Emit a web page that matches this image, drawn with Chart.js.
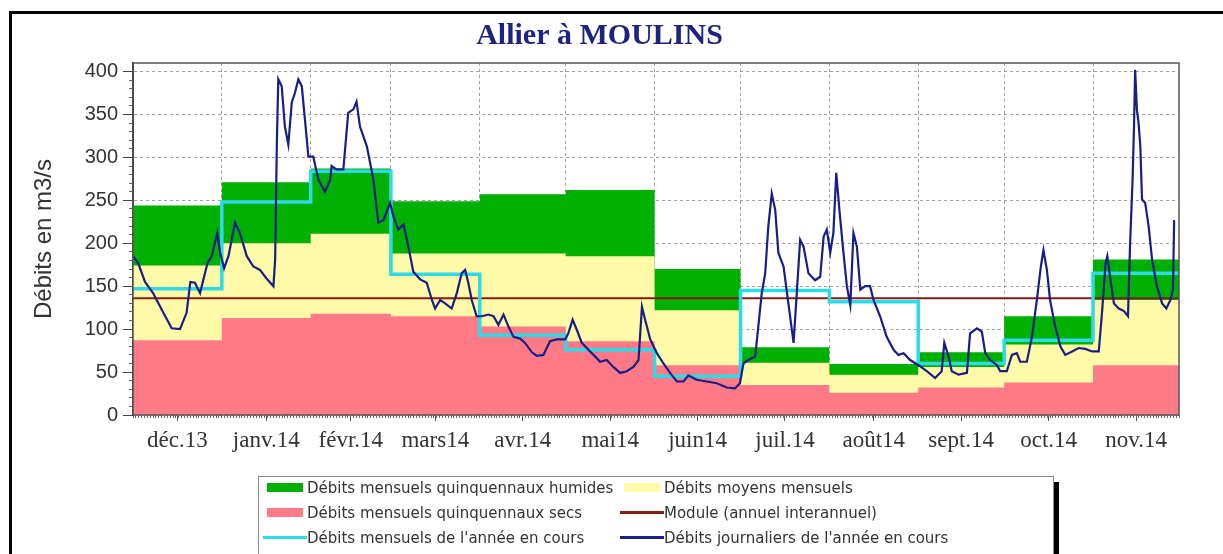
<!DOCTYPE html>
<html>
<head>
<meta charset="utf-8">
<script src="https://cdn.jsdelivr.net/npm/chart.js@4/dist/chart.umd.min.js"></script>
<style>
    body { margin: 0; background: #fff; }
    #wrap { position: relative; width: 1223px; height: 554px; overflow: hidden; background: #fff; }
    #chart { position: absolute; left: 0; top: 0; }
    .frame { position: absolute; left: 9px; top: 11px; width: 1400px; height: 800px; border-left: 3px solid #000; border-top: 3px solid #000; pointer-events: none; }
    #legend { position: absolute; left: 258px; top: 476px; width: 796px; height: 110px; box-sizing: border-box; border: 1px solid #8c8c8c; box-shadow: 5px 6px 0 #000; background: #fff; }
    #legend .rows { display: grid; grid-template-columns: 357px auto; grid-auto-rows: 25px; margin: -2px 0 0 4px; font: 15px "DejaVu Sans", sans-serif; color: #333; }
    #legend .item { display: flex; align-items: center; white-space: nowrap; }
    #legend .sw { width: 44px; height: 25px; display: flex; align-items: center; justify-content: center; flex: none; }
</style>
</head>
<body>
<div id="wrap">
    <canvas id="chart" width="1223" height="554"></canvas>
    <div class="frame"></div>
    <div id="legend"><div class="rows"></div></div>
</div>
<script>
// jours depuis le 1er décembre 2013
const monthStarts = [0, 31, 62, 90, 121, 151, 182, 212, 243, 274, 304, 335];
const periodEnd = 365;
const monthMids = [15.5, 46.5, 76, 105.5, 136, 166.5, 197, 227.5, 258.5, 289, 319.5, 350];
const monthLabels = ["déc.13", "janv.14", "févr.14", "mars14", "avr.14", "mai14", "juin14", "juil.14", "août14", "sept.14", "oct.14", "nov.14"];

const humidValues = [244, 271, 287, 249, 257, 262, 170, 79, 59.5, 73, 115, 181];
const meanValues = [174, 200, 211, 188, 188, 185, 122, 61, 47, 56, 82, 134];
const dryValues = [87, 113, 118, 115, 103, 86, 58, 35, 26, 32, 38, 58];
const currentMonthly = [147, 248, 284, 164, 93, 76, 45, 145, 132, 60, 87, 165];
const moduleValue = 136;

const dailyDays = [0, 1.8, 4.2, 7, 10.6, 13.5, 16.4, 18.7, 20, 21.6, 23.4, 26, 27.5, 29.4, 30.4, 31.8, 33.3, 35.6, 37.3, 39.7,
    42, 44.3, 46.6, 49, 49.6, 50.2, 50.7, 51.9, 53, 54.2, 55.4, 56.5, 57.7, 58.9, 60, 61.2, 62.9, 64.7, 67, 68.8,
    69.3, 71, 73.4, 75.1, 76.9, 78, 79.2, 81.6, 83.9, 85.6, 87.4, 89.7, 90.9, 92.6, 94.4, 96.1, 97.8, 100.2, 102.5, 104.3,
    105.4, 107.2, 108.9, 111.2, 113, 114.7, 115.9, 117, 118.2, 119.9, 121.7, 124, 125.8, 127.5, 129.3, 131, 132.8, 135.1, 136.8, 139.2,
    140.9, 143.2, 145.5, 147.9, 150.8, 151.9, 153.4, 154.9, 156.6, 158.9, 161.3, 163, 165.3, 167.6, 170, 172.3, 174.6, 176.4, 177.6, 178.7,
    180.5, 182.8, 185.1, 187.4, 189.8, 192.1, 193.8, 196.7, 200.2, 203.7, 207.2, 210.1, 211.8, 213, 214.7, 217.1, 218.2, 219.4, 220.6, 221.7,
    222.9, 224.1, 225.2, 227, 228.7, 230.5, 231.7, 232.8, 234, 235.7, 238, 239.8, 241, 242.1, 243.3, 244.4, 245.4, 246.5, 247.7, 249.1,
    250.3, 251.4, 252.6, 253.8, 255.5, 257.2, 258.4, 260.7, 263, 265.4, 267.1, 268.9, 271.2, 274.1, 277, 279.9, 282.2, 283.1, 284.6, 285.7,
    288.1, 291, 292.1, 294.5, 296.2, 297.4, 299.1, 301.5, 302.6, 304.9, 306.7, 308.4, 309.6, 311.9, 313.7, 315.4, 316.8, 317.7, 318.9, 320,
    321.8, 323.6, 325.3, 327.7, 330, 332.3, 334.7, 337, 338.2, 339.4, 340, 341.1, 342.3, 344, 345.8, 347.2, 347.9, 348.8, 349.3, 349.7,
    350.3, 350.9, 351.5, 352.1, 353.2, 354.4, 355.6, 357.3, 359.1, 360.6, 362, 362.9, 363.3];
const dailyValues = [185, 177, 155, 142, 119, 101, 100, 119, 155, 154, 142, 177, 185, 212, 189, 171, 185, 224, 212, 185,
    173, 169, 159, 150, 181, 317, 391, 383, 336, 315, 364, 375, 391, 383, 344, 301, 301, 274, 260, 274,
    290, 286, 286, 352, 356, 365, 336, 313, 274, 224, 227, 247, 231, 216, 222, 196, 167, 158, 154, 134,
    124, 134, 130, 124, 142, 165, 169, 154, 134, 115, 115, 117, 115, 105, 117, 103, 91, 89, 84, 73,
    69, 70, 86, 88, 88, 95, 111, 99, 84, 76, 68, 62, 64, 56, 49, 51, 56, 64, 126, 111,
    88, 72, 60, 49, 39, 39, 46, 41, 39, 37, 32, 31, 37, 60, 64, 68, 103, 142, 165, 220,
    258, 239, 189, 173, 130, 84, 146, 204, 196, 165, 157, 161, 208, 216, 189, 212, 282, 239, 196, 150,
    128, 212, 196, 146, 150, 150, 134, 115, 91, 76, 70, 72, 64, 58, 51, 43, 51, 84, 68, 51,
    47, 49, 95, 101, 97, 72, 64, 58, 51, 51, 70, 72, 62, 62, 91, 134, 173, 192, 169, 134,
    103, 80, 70, 74, 78, 77, 74, 74, 122, 177, 185, 157, 130, 124, 121, 115, 196, 274, 336, 402,
    356, 340, 313, 251, 247, 220, 181, 150, 130, 124, 134, 146, 227];

function monthlySteps(values) {
    var pts = monthStarts.map((d, i) => ({ x: d, y: values[i] }));
    pts.push({ x: periodEnd, y: values[values.length - 1] });
    return pts;
}

const plotFrame = {
    id: "plotFrame",
    afterDatasetsDraw(chart) {
        const { ctx, chartArea: a } = chart;
        ctx.save();
        ctx.strokeStyle = "#555";
        ctx.lineWidth = 1.5;
        ctx.strokeRect(a.left, a.top, a.right - a.left, a.bottom - a.top);
        ctx.restore();
    },
};

function buildLegend(chart) {
    var rows = document.querySelector("#legend .rows");
    chart.data.datasets.forEach((ds) => {
        var item = document.createElement("div");
        item.className = "item";
        var sw = document.createElement("span");
        sw.className = "sw";
        var mark = document.createElement("span");
        if (ds.fill) {
            mark.style.cssText = "width:36px;height:9px;background:" + ds.backgroundColor;
        } else {
            mark.style.cssText = "width:44px;height:3px;background:" + ds.borderColor;
        }
        sw.appendChild(mark);
        item.appendChild(sw);
        item.appendChild(document.createTextNode(ds.label));
        rows.appendChild(item);
    });
}

function everyStep(from, to, step) {
    var out = [];
    for (var v = from; v <= to; v += step) out.push({ value: v });
    return out;
}

const tickFont = { family: "Liberation Sans", size: 20 };
const gridColor = "#a0a0a0";

var chart = new Chart(document.getElementById("chart"), {
    type: "line",
    data: {
        datasets: [
            { label: "Débits mensuels quinquennaux humides", data: monthlySteps(humidValues), stepped: true, fill: "origin",
              backgroundColor: "rgb(0,176,0)", borderColor: "rgba(0,0,0,0)", borderWidth: 0, order: 5 },
            { label: "Débits moyens mensuels", data: monthlySteps(meanValues), stepped: true, fill: "origin",
              backgroundColor: "rgb(255,250,168)", borderColor: "rgba(0,0,0,0)", borderWidth: 0, order: 4 },
            { label: "Débits mensuels quinquennaux secs", data: monthlySteps(dryValues), stepped: true, fill: "origin",
              backgroundColor: "rgb(255,122,135)", borderColor: "rgba(0,0,0,0)", borderWidth: 0, order: 3 },
            { label: "Module (annuel interannuel)", data: [{ x: 0, y: moduleValue }, { x: periodEnd, y: moduleValue }], fill: false,
              borderColor: "rgb(130,28,20)", borderWidth: 2, order: 2 },
            { label: "Débits mensuels de l'année en cours", data: monthlySteps(currentMonthly), stepped: true, fill: false,
              borderColor: "rgb(45,218,232)", borderWidth: 3.5, order: 1 },
            { label: "Débits journaliers de l'année en cours", data: dailyDays.map((d, i) => ({ x: d, y: dailyValues[i] })), fill: false,
              borderColor: "rgb(24,30,135)", borderWidth: 2.2, order: 0 },
        ],
    },
    options: {
        responsive: false,
        animation: false,
        devicePixelRatio: 1,
        elements: { point: { radius: 0 }, line: { tension: 0 } },
        layout: { padding: { left: 20, right: 44, top: 0, bottom: 89 } },
        plugins: {
            legend: { display: false },
            tooltip: { enabled: false },
            title: {
                display: true,
                text: "Allier à MOULINS",
                color: "#1c2480",
                font: { family: "Liberation Serif", size: 30, weight: "bold" },
                padding: { top: 18, bottom: 9 },
            },
        },
        scales: {
            x: {
                type: "linear",
                position: "bottom",
                weight: 0,
                min: 0,
                max: periodEnd,
                afterBuildTicks: (s) => { s.ticks = monthStarts.map((v) => ({ value: v })); },
                afterFit: (s) => { s.height = 0; },
                ticks: { display: false },
                grid: { color: gridColor, drawTicks: false },
                border: { display: false, dash: [3, 3] },
            },
            days: {
                type: "linear",
                position: "bottom",
                weight: 1,
                min: 0,
                max: periodEnd,
                afterBuildTicks: (s) => { s.ticks = everyStep(0, periodEnd, 1); },
                afterFit: (s) => { s.height = 0; },
                ticks: { display: false },
                grid: { drawOnChartArea: false, tickLength: 3, color: "#666" },
                border: { display: false },
            },
            months: {
                type: "linear",
                position: "bottom",
                weight: 2,
                min: 0,
                max: periodEnd,
                afterBuildTicks: (s) => { s.ticks = monthMids.map((v) => ({ value: v })); },
                afterFit: (s) => { s.height = 50; },
                ticks: {
                    autoSkip: false,
                    maxRotation: 0,
                    padding: 6,
                    color: "#333",
                    font: { family: "Liberation Serif", size: 23 },
                    callback: (v, i) => monthLabels[i],
                },
                grid: { drawOnChartArea: false, tickLength: 6, color: "#555" },
                border: { display: false },
            },
            yMinor: {
                type: "linear",
                position: "left",
                weight: 0,
                min: 0,
                max: 410,
                afterBuildTicks: (s) => { s.ticks = everyStep(0, 400, 10); },
                afterFit: (s) => { s.width = 0; },
                ticks: { display: false },
                grid: { drawOnChartArea: false, tickLength: 4, color: "#666" },
                border: { display: false },
            },
            y: {
                weight: 1,
                min: 0,
                max: 410,
                afterFit: (s) => { s.width = 113; },
                ticks: { stepSize: 50, includeBounds: false, padding: 5, color: "#333", font: tickFont },
                grid: { color: gridColor, tickLength: 10, tickColor: "#444" },
                border: { color: "#333", width: 2, dash: [3, 3] },
                title: {
                    display: true,
                    text: "Débits en m3/s",
                    color: "#333",
                    font: { family: "Liberation Sans", size: 24 },
                    padding: { top: 10, bottom: 0 },
                },
            },
        },
    },
    plugins: [plotFrame],
});

buildLegend(chart);
</script>
</body>
</html>
